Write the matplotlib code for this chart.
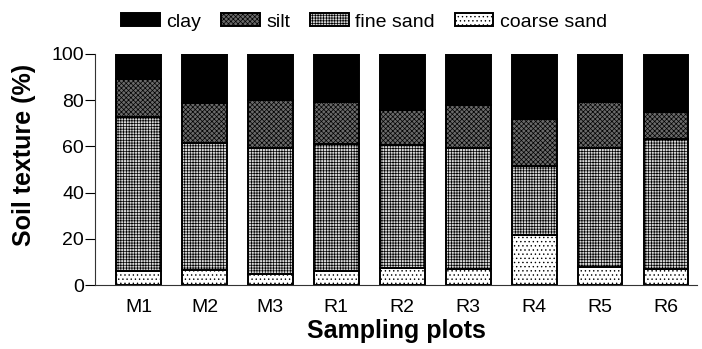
import numpy as np
import matplotlib
matplotlib.use('Agg')
import matplotlib.pyplot as plt

plt.rcParams['font.family'] = ['Liberation Sans', 'DejaVu Sans']
plt.rcParams['hatch.linewidth'] = 0.5

plots = ['M1', 'M2', 'M3', 'R1', 'R2', 'R3', 'R4', 'R5', 'R6']

# cumulative tops (%)
coarse_top = [6.2, 6.5, 4.8, 6.0, 7.2, 6.9, 21.6, 7.6, 6.9]
fine_top = [72.9, 61.3, 59.4, 60.9, 60.6, 59.4, 51.7, 59.4, 63.2]
silt_top = [89.2, 78.9, 80.1, 79.2, 75.8, 77.9, 71.9, 79.4, 75.0]
clay_top = [100, 100, 100, 100, 100, 100, 100, 100, 99.5]

coarse = np.array(coarse_top)
fine = np.array(fine_top) - coarse
silt = np.array(silt_top) - np.array(fine_top)
clay = np.array(clay_top) - np.array(silt_top)

fig = plt.figure(figsize=(7.02, 3.49), dpi=100)
ax = fig.add_axes([95/702, (349-285)/349, (697-95)/702, (285-54)/349])

x = np.arange(len(plots))
w = 0.68
lw = 1.4
b1 = ax.bar(x, coarse, w, color='white', edgecolor='black', hatch='....', linewidth=lw, label='coarse sand')
b2 = ax.bar(x, fine, w, bottom=coarse, color='#d6d6d6', edgecolor='black', hatch='++++++', linewidth=lw, label='fine sand')
b3 = ax.bar(x, silt, w, bottom=np.array(fine_top), color='#6a6a6a', edgecolor='black', hatch='xxxxxxx', linewidth=lw, label='silt')
b4 = ax.bar(x, clay, w, bottom=np.array(silt_top), color='black', edgecolor='black', linewidth=lw, label='clay')

ax.set_xlim(-0.66, 8.47)
ax.set_ylim(0, 100)
ax.set_yticks(np.arange(0, 101, 20))
ax.set_xticks(x)
ax.set_xticklabels(plots)
ax.tick_params(axis='x', length=0, pad=10, labelsize=14)
ax.tick_params(axis='y', length=7, width=0.8, pad=1, labelsize=14)

for s in ['top', 'right']:
    ax.spines[s].set_visible(False)
for s in ['left', 'bottom']:
    ax.spines[s].set_linewidth(0.8)
    ax.spines[s].set_color('#333333')

ax.set_xlabel('Sampling plots', fontsize=18, fontweight='bold', labelpad=2)
fig.text(24/702, 1 - 155/349, 'Soil texture (%)', fontsize=18, fontweight='bold',
         rotation=90, ha='center', va='center')

fig.legend([b4, b3, b2, b1], ['clay', 'silt', 'fine sand', 'coarse sand'],
           loc='center', bbox_to_anchor=(364/702, 1 - 22/349), ncol=4, frameon=False,
           fontsize=14, handlelength=2.0, handleheight=0.62, handletextpad=0.35,
           columnspacing=1.0, borderaxespad=0)

fig.savefig('out.png', dpi=100)
